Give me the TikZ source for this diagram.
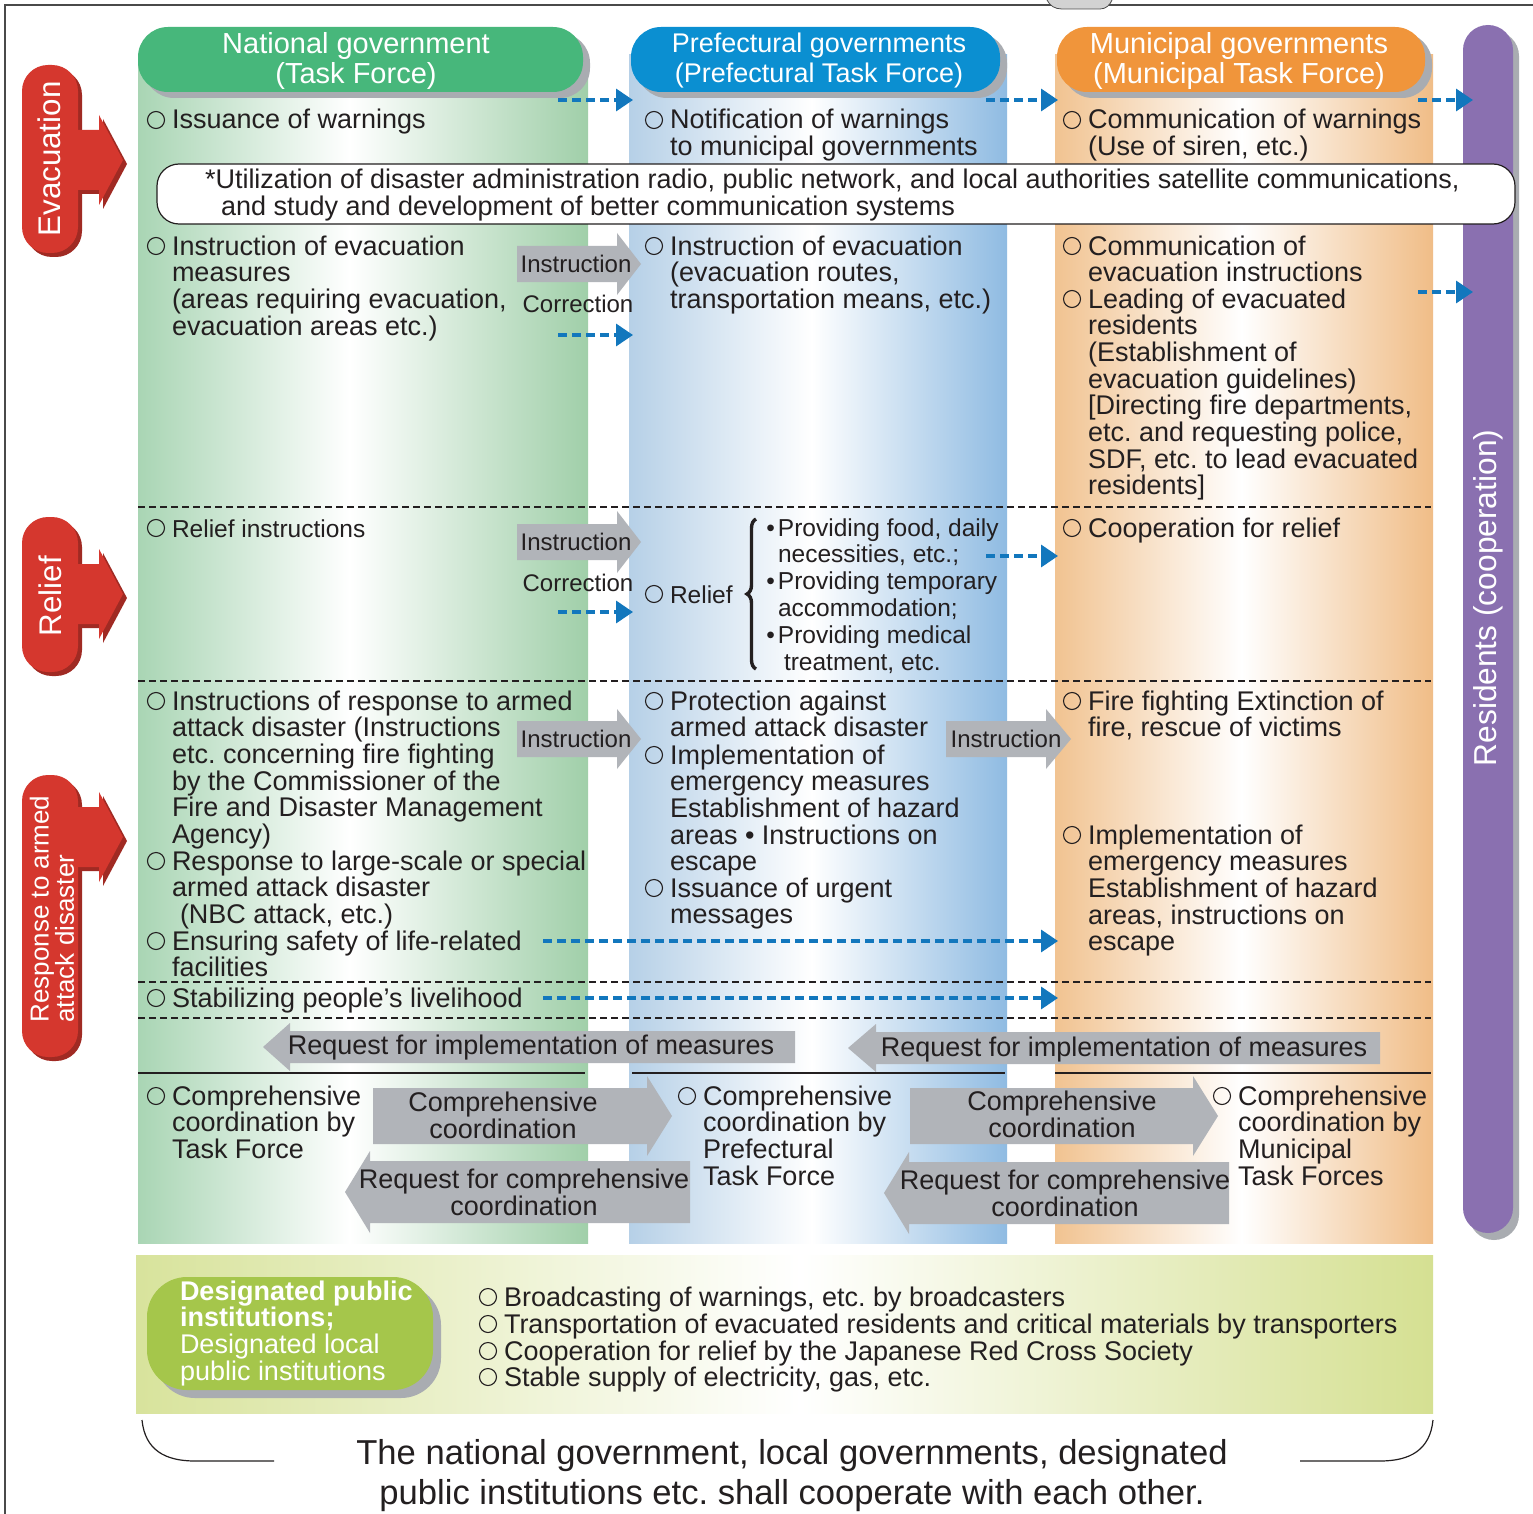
\documentclass[tikz,border=0pt]{standalone}
\usepackage{fontspec}
\setmainfont{Liberation Sans}
\usetikzlibrary{arrows.meta,calc,decorations.pathreplacing}
\definecolor{ink}{HTML}{231F20}
\definecolor{agray}{HTML}{B1B4B9}
\definecolor{shgray}{HTML}{A9ACB1}
\definecolor{dblue}{HTML}{1277BD}
\definecolor{redm}{HTML}{D5372E}
\definecolor{redsh}{HTML}{A02A23}
\definecolor{hgreen}{HTML}{47B77B}
\definecolor{hblue}{HTML}{0B8FD1}
\definecolor{horange}{HTML}{F0953B}
\definecolor{purp}{HTML}{8A70B0}
\definecolor{cgL}{HTML}{A9D5B4}
\definecolor{cgR}{HTML}{A0CFA9}
\definecolor{cbL}{HTML}{B6D0E7}
\definecolor{cbR}{HTML}{8FBBE2}
\definecolor{coL}{HTML}{F1C391}
\definecolor{coR}{HTML}{F0BD87}
\definecolor{desL}{HTML}{D8E39C}
\definecolor{desR}{HTML}{D5E092}
\definecolor{pillg}{HTML}{A5C64B}
\definecolor{frmc}{HTML}{4A4A4A}

\newcommand\fz[2][26.7]{\fontsize{#2}{#1}\selectfont}
\newcommand\st{\rule{0pt}{21pt}}
\frenchspacing

\tikzset{
 txt/.style={anchor=north west, inner sep=0pt, outer sep=0pt, align=left, font={\fz{27}}, text=ink},
 small/.style={font={\fz[26.8]{24.5}}},
 lbl/.style={inner sep=0pt, align=center, font={\fz[27]{27}}, text=ink},
 lbls/.style={inner sep=0pt, align=center, font={\fz[27]{24}}, text=ink},
 hdr/.style={inner sep=0pt, align=center, font={\fz[30]{29}}, text=white},
 rot/.style={inner sep=0pt, align=left, rotate=90, text=white},
 bul/.style={draw=ink, line width=1.1pt},
 bdash/.style={draw=dblue, line width=3.5pt, dash pattern=on 9pt off 5pt, -{Triangle[length=17pt,width=22pt]}},
 dline/.style={draw=ink, line width=1.1pt, dash pattern=on 7pt off 4pt},
 sline/.style={draw=ink, line width=1.2pt},
}

\newcommand\bitem[5][]{%
 \node[txt,#1] (#2) at (#3,#4-12) {\st#5};
 \draw[bul] ($(#2.north west)+(-16,12)$) circle[radius=8.5pt];}

% right block arrow: left, head base, tip, center y, half body, half head
\newcommand\rblock[6]{\fill[agray] (#1,#4-#5) -- (#2,#4-#5) -- (#2,#4-#6) -- (#3,#4) -- (#2,#4+#6) -- (#2,#4+#5) -- (#1,#4+#5) -- cycle;}
% left block arrow: tip, head base, right, center y, half body, half head
\newcommand\lblock[6]{\fill[agray] (#1,#4) -- (#2,#4-#6) -- (#2,#4-#5) -- (#3,#4-#5) -- (#3,#4+#5) -- (#2,#4+#5) -- (#2,#4+#6) -- cycle;}

\newcommand\redshape[4]{%
 \fill[#1, rounded corners=26] (22,#2) rectangle (78,#3);
 \fill[#1] (70,#4-30) -- (99,#4-30) -- (99,#4-45) -- (123,#4) -- (99,#4+45) -- (99,#4+30) -- (70,#4+30) -- cycle;}
\newcommand\redarr[3]{%
 \begin{scope}[shift={(4,4)}]\redshape{redsh}{#1}{#2}{#3}\end{scope}
 \redshape{redm}{#1}{#2}{#3}}

\begin{document}
\begin{tikzpicture}[x=1pt,y=-1pt]
\useasboundingbox (0,0) rectangle (1533,1514);
\fill[white] (0,0) rectangle (1533,1514);

% frame and fragment at top
\draw[draw=frmc, line width=1.5pt] (5,1514) -- (5,5) -- (1533,5);
\draw[fill=gray!35, draw=gray!60!black, line width=0.8pt] (1047,0) .. controls (1050,6) and (1055,9) .. (1062,9) -- (1100,9) .. controls (1106,9) and (1110,5) .. (1112,0);

% columns
\shade[left color=cgL, right color=white] (138,55) rectangle (350,1243);
\shade[left color=white, right color=cgR] (349.5,55) rectangle (588,1243);
\shade[left color=cbL, right color=white] (629,55) rectangle (812,1243);
\shade[left color=white, right color=cbR] (811.5,55) rectangle (1007,1243);
\shade[left color=coL, right color=white] (1055,55) rectangle (1242,1243);
\shade[left color=white, right color=coR] (1241.5,55) rectangle (1433,1243);

% headers
\fill[shgray, rounded corners=30] (144,33) rectangle (590,98);
\fill[hgreen, rounded corners=30] (138,27) rectangle (583,92);
\fill[shgray, rounded corners=30] (637,33) rectangle (1007,98);
\fill[hblue, rounded corners=30] (631,27) rectangle (1000,92);
\fill[shgray, rounded corners=30] (1063,33) rectangle (1432,98);
\fill[horange, rounded corners=30] (1057,27) rectangle (1425,92);
\node[hdr] (hn) at (356,61) {National government\\(Task Force)};
\node[hdr, font={\fz[30]{27}}] (hp) at (819,61) {Prefectural governments\\(Prefectural Task Force)};
\node[hdr] (hm) at (1239,61) {Municipal governments\\(Municipal Task Force)};

% residents bar
\fill[shgray, rounded corners=25] (1469,31) rectangle (1519,1240);
\fill[purp, rounded corners=25] (1463,25) rectangle (1513,1233);
\node[rot, font={\fz{31.7}}] (res) at (1488,598) {Residents (cooperation)};

% designated public institutions
\shade[left color=desL, right color=white] (136,1255) rectangle (801,1413);
\shade[left color=white, right color=desR] (800.5,1255) rectangle (1433,1413);
\fill[shgray, rounded corners=40] (155,1285) rectangle (441,1398);
\fill[pillg, rounded corners=40] (147,1277) rectangle (433,1390);
\node[txt, text=white] (dpt) at (180,1291-12) {\st\textbf{Designated public}\\\textbf{institutions;}\\Designated local\\public institutions};
\bitem{d1}{504}{1297}{Broadcasting of warnings, etc. by broadcasters}
\bitem{d2}{504}{1324}{Transportation of evacuated residents and critical materials by transporters}
\bitem{d3}{504}{1351}{Cooperation for relief by the Japanese Red Cross Society}
\bitem{d4}{504}{1377}{Stable supply of electricity, gas, etc.}

% bottom bracket and text
\draw[ink, line width=1.2pt] (142,1420) .. controls (145,1450) and (165,1461) .. (195,1461) -- (274,1461);
\draw[ink, line width=1.2pt] (1433,1420) .. controls (1430,1450) and (1410,1461) .. (1380,1461) -- (1300,1461);
\node[lbl, font={\fz[40]{34.6}}] (coop) at (792,1476) {The national government, local governments, designated\\public institutions etc. shall cooperate with each other.};

% separators
\draw[dline] (138,507) -- (1431,507);
\draw[dline] (138,681) -- (1431,681);
\draw[dline] (138,982) -- (1431,982);
\draw[dline] (138,1018) -- (1431,1018);
\draw[sline] (138,1073) -- (585,1073);
\draw[sline] (632,1073) -- (1005,1073);
\draw[sline] (1055,1073) -- (1431,1073);

% utilization box
\draw[sline, fill=white, rounded corners=22] (157,164) rectangle (1515,224);
\node[txt] (util) at (205,180-12) {\st*Utilization of disaster administration radio, public network, and local authorities satellite communications,\\\hspace*{16pt}and study and development of better communication systems};

% red section arrows
\redarr{65}{253}{160}
\redarr{517}{672}{594}
\redarr{775}{1057}{837}
\node[rot, font={\fz{31.3}}] (tev) at (49,159) {Evacuation};
\node[rot, font={\fz{31.3}}] (trl) at (50,596) {Relief};
\node[rot, font={\fz[22]{26}}] (tar) at (52,909) {Response to armed\\attack disaster};

% gray block arrows
\rblock{517}{617}{641}{264}{18}{31}
\rblock{517}{617}{641}{542}{18}{31}
\rblock{517}{617}{641}{739}{18}{30}
\rblock{946}{1046}{1071}{739}{18}{30}
\lblock{263}{290}{795}{1047}{16}{24}
\lblock{848}{876}{1380}{1048}{16}{24}
\rblock{373}{647}{672}{1116}{28}{40}
\rblock{910}{1193}{1218}{1116}{28}{40}
\lblock{345}{370}{690}{1192}{31}{41}
\lblock{884}{909}{1229}{1193}{31}{41}
\node[lbls] (i1) at (576,264) {Instruction};
\node[lbls] (c1) at (578,304) {Correction};
\node[lbls] (i2) at (576,542) {Instruction};
\node[lbls] (c2) at (578,583) {Correction};
\node[lbls] (i3) at (576,739) {Instruction};
\node[lbls] (i4) at (1006,739) {Instruction};
\node[lbl] (r1) at (531,1048) {Request for implementation of measures};
\node[lbl] (r2) at (1124,1050) {Request for implementation of measures};
\node[lbl] (cc1) at (503,1115) {Comprehensive\\coordination};
\node[lbl] (cc2) at (1062,1114) {Comprehensive\\coordination};
\node[lbl] (rc1) at (524,1192) {Request for comprehensive\\coordination};
\node[lbl] (rc2) at (1065,1193) {Request for comprehensive\\coordination};

% blue dashed arrows
\coordinate (a1s) at (558,100);  \coordinate (a1e) at (633,100);
\coordinate (a2s) at (986,100);  \coordinate (a2e) at (1058,100);
\coordinate (a3s) at (1418,100); \coordinate (a3e) at (1473,100);
\coordinate (a4s) at (558,335);  \coordinate (a4e) at (633,335);
\coordinate (a5s) at (1418,292); \coordinate (a5e) at (1473,292);
\coordinate (a6s) at (986,556);  \coordinate (a6e) at (1058,556);
\coordinate (a7s) at (558,612);  \coordinate (a7e) at (633,612);
\coordinate (a8s) at (543,941);  \coordinate (a8e) at (1058,941);
\coordinate (a9s) at (543,998);  \coordinate (a9e) at (1058,998);
\foreach \k in {1,...,9} {\draw[bdash] (a\k s) -- (a\k e);}

% national government column
\bitem{g1}{172}{120}{Issuance of warnings}
\bitem{g2}{172}{246}{Instruction of evacuation\\measures\\(areas requiring evacuation,\\evacuation areas etc.)}
\bitem[small]{g3}{172}{528}{Relief instructions}
\bitem{g4}{172}{701}{Instructions of response to armed\\attack disaster (Instructions\\etc. concerning fire fighting\\by the Commissioner of the\\Fire and Disaster Management\\Agency)}
\bitem{g5}{172}{861}{Response to large-scale or special\\armed attack disaster\\\hspace*{8pt}(NBC attack, etc.)}
\bitem{g6}{172}{941}{Ensuring safety of life-related\\facilities}
\bitem{g7}{172}{998}{Stabilizing people's livelihood}
\bitem{g8}{172}{1096}{Comprehensive\\coordination by\\Task Force}

% prefectural column
\bitem{p1}{670}{120}{Notification of warnings\\to municipal governments}
\bitem{p2}{670}{246}{Instruction of evacuation\\(evacuation routes,\\transportation means, etc.)}
\bitem[small]{p3}{670}{594}{Relief}
\draw[ink, line width=3.4pt, decorate, decoration={brace, amplitude=9pt}] (756,669) -- (756,519);
\node[txt, small] (pl) at (778,528-13) {\st\llap{•\hspace{3pt}}Providing food, daily\\necessities, etc.;\\\llap{•\hspace{3pt}}Providing temporary\\accommodation;\\\llap{•\hspace{3pt}}Providing medical\\\hspace*{6pt}treatment, etc.};
\bitem{p4}{670}{701}{Protection against\\armed attack disaster}
\bitem{p5}{670}{755}{Implementation of\\emergency measures\\Establishment of hazard\\areas • Instructions on\\escape}
\bitem{p6}{670}{888}{Issuance of urgent\\messages}
\bitem{p7}{703}{1096}{Comprehensive\\coordination by\\Prefectural\\Task Force}

% municipal column
\bitem{m1}{1088}{120}{Communication of warnings\\(Use of siren, etc.)}
\bitem{m2}{1088}{246}{Communication of\\evacuation instructions}
\bitem{m3}{1088}{299}{Leading of evacuated\\residents\\(Establishment of\\evacuation guidelines)\\{[}Directing fire departments,\\etc. and requesting police,\\SDF, etc. to lead evacuated\\residents{]}}
\bitem{m4}{1088}{528}{Cooperation for relief}
\bitem{m5}{1088}{701}{Fire fighting Extinction of\\fire, rescue of victims}
\bitem{m6}{1088}{835}{Implementation of\\emergency measures\\Establishment of hazard\\areas, instructions on\\escape}
\bitem{m7}{1238}{1096}{Comprehensive\\coordination by\\Municipal\\Task Forces}
\end{tikzpicture}
\end{document}
